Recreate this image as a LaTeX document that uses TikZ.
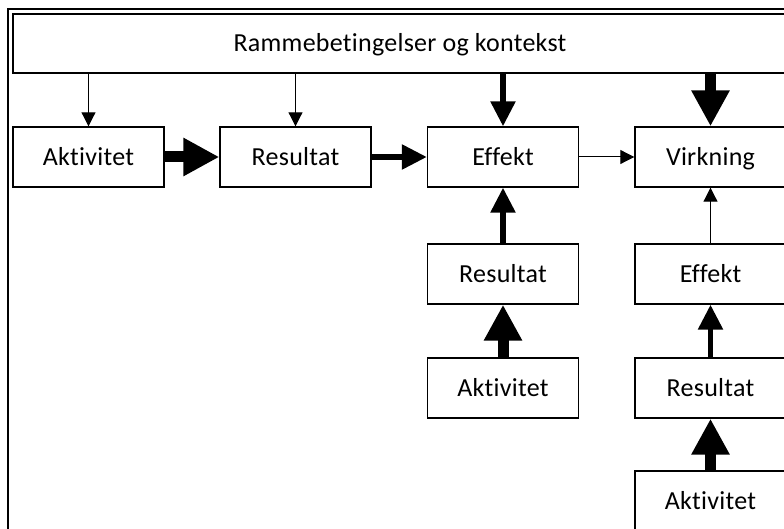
\documentclass[tikz,border=0pt]{standalone}
\usepackage{fontspec}
\setmainfont{Carlito}[Ligatures={NoCommon}, LetterSpace=1]
\usetikzlibrary{arrows.meta}
\begin{document}
\begin{tikzpicture}[x=1pt,y=-1pt,
  label font/.style={font=\fontsize{26}{30}\selectfont, text height=17pt, text depth=0pt},
  box/.style={draw, line width=1.4pt, minimum width=151pt, minimum height=60pt, inner sep=0pt, label font},
  thinarrow/.style={line width=1pt, -{Triangle[length=14pt,width=14pt]}},
  midarrow/.style={line width=5.5pt, -{Triangle[length=25pt,width=24pt]}},
  thickarrow/.style={line width=11pt, -{Triangle[length=36pt,width=36pt]}}]
\useasboundingbox (0,0) rectangle (784,529);
\clip (0,0) rectangle (784,529);

% outer frame
\draw[line width=1.6pt] (8,540) -- (8,9) -- (800,9);

% framing conditions
\node[draw, line width=1.4pt, minimum width=774pt, minimum height=59pt, inner sep=0pt, label font]
  (ramme) at (400,43.5) {Rammebetingelser og kontekst};

% main chain
\node[box] (akt)  at (88.5,157) {Aktivitet};
\node[box] (res)  at (295.5,157) {Resultat};
\node[box] (eff)  at (503,157) {Effekt};
\node[box] (virk) at (710.5,157) {Virkning};

% column below Effekt
\node[box] (res2) at (503,274) {Resultat};
\node[box] (akt2) at (503,388) {Aktivitet};

% column below Virkning
\node[box] (eff3) at (710.5,274) {Effekt};
\node[box] (res3) at (710.5,388) {Resultat};
\node[box] (akt3) at (710.5,501) {Aktivitet};

% influence of the framing conditions
\draw[thinarrow]  (ramme.south -| akt.north)  -- (akt.north);
\draw[thinarrow]  (ramme.south -| res.north)  -- (res.north);
\draw[midarrow]   (ramme.south -| eff.north)  -- (eff.north);
\draw[thickarrow] (ramme.south -| virk.north) -- (virk.north);

% horizontal chain
\draw[thickarrow] (akt) -- (res);
\draw[midarrow]   (res) -- (eff);
\draw[thinarrow]  (eff) -- (virk);

% vertical chains
\draw[thickarrow] (akt2) -- (res2);
\draw[midarrow]   (res2) -- (eff);
\draw[thickarrow] (akt3) -- (res3);
\draw[midarrow]   (res3) -- (eff3);
\draw[thinarrow]  (eff3) -- (virk);
\end{tikzpicture}
\end{document}
